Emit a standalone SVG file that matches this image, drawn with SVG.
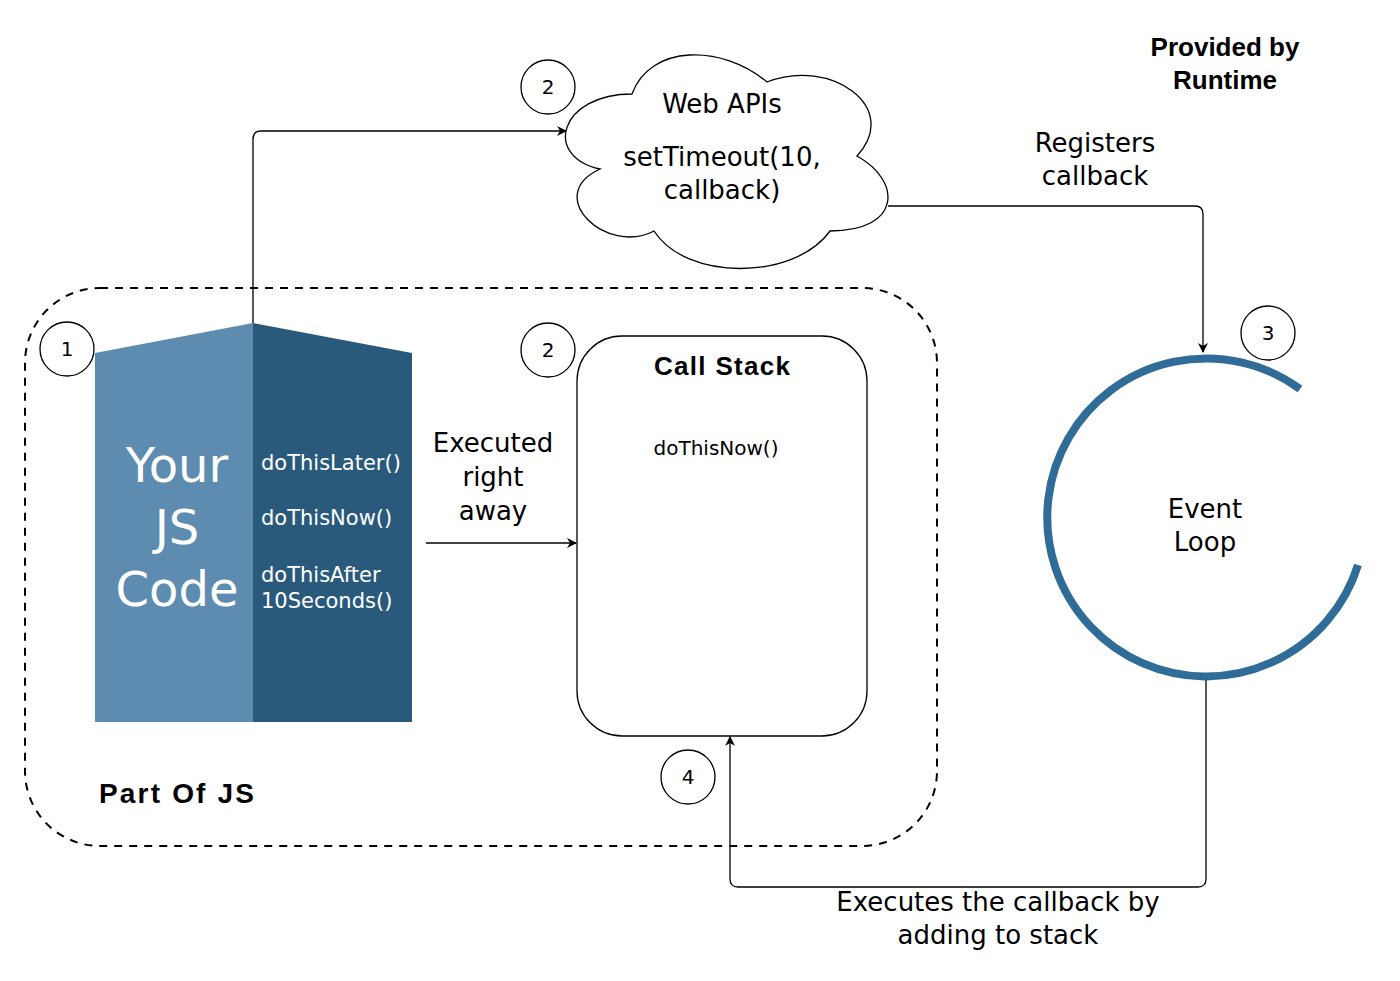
<svg xmlns="http://www.w3.org/2000/svg" width="1400" height="981" viewBox="0 0 1400 981">
<style>
text{font-family:"DejaVu Sans","Liberation Sans",sans-serif;fill:#000}
.t26{font-size:26px;text-anchor:middle}
.b{font-weight:bold;font-family:"Liberation Sans","DejaVu Sans",sans-serif}
.num{font-size:20px;text-anchor:middle}
.circ{fill:#fff;stroke:#000;stroke-width:1.3}
.conn{fill:none;stroke:#000;stroke-width:1.3}
.code{font-size:21px}
.big{font-size:48px;text-anchor:middle}
.w{fill:#fff}
</style>
<defs>
<marker id="arr" viewBox="0 0 10 10" refX="9" refY="5" markerWidth="10" markerHeight="10" markerUnits="userSpaceOnUse" orient="auto">
<path d="M0,0 L10,5 L0,10 L3,5 Z" fill="#000"/>
</marker>
</defs>
<rect width="1400" height="981" fill="#fff"/>
<g id="part-of-js">
<rect x="25" y="288" width="912" height="558" rx="75" fill="none" stroke="#000" stroke-width="2" stroke-dasharray="8,7"/>
<text x="99" y="803" font-size="28" class="b" textLength="155" lengthAdjust="spacing">Part Of JS</text>
</g>
<g id="connectors">
<path class="conn" d="M253,323 V139 Q253,131 261,131 H566" marker-end="url(#arr)"/>
<path class="conn" d="M888,206 H1195 Q1203,206 1203,214 V352" marker-end="url(#arr)"/>
<path class="conn" d="M426,543 H576" marker-end="url(#arr)"/>
<path class="conn" d="M1206,673 V879 Q1206,887 1198,887 H738 Q730,887 730,879 V737" marker-end="url(#arr)"/>
</g>
<g id="js-code">
<polygon points="95,353 253,323 253,722 95,722" fill="#5d8cb0"/>
<polygon points="253,323 412,353 412,722 253,722" fill="#295a7b"/>
<text x="177" y="482" class="big w">Your</text>
<text x="177" y="544" class="big w">JS</text>
<text x="177" y="606" class="big w">Code</text>
<text x="261" y="470" class="code w">doThisLater()</text>
<text x="261" y="525" class="code w">doThisNow()</text>
<text x="261" y="582" class="code w">doThisAfter</text>
<text x="261" y="608" class="code w">10Seconds()</text>
</g>
<g id="step1"><circle class="circ" cx="67" cy="349" r="27"/><text x="67" y="356" class="num">1</text></g>
<g id="web-apis">
<path d="M632,94 C560,94 542,156 600,169 C542,196 607,256 654,231 C686,281 794,281 830,231 C902,231 902,181 857,156 C902,107 830,57 767,82 C722,44 650,44 632,94 Z" fill="#fff" stroke="#000" stroke-width="1.3"/>
<text x="722" y="113" class="t26">Web APIs</text>
<text x="722" y="166" class="t26">setTimeout(10,</text>
<text x="722" y="199" class="t26">callback)</text>
</g>
<g id="step2a"><circle class="circ" cx="548" cy="87" r="27"/><text x="548" y="94" class="num">2</text></g>
<g id="call-stack">
<rect x="577" y="336" width="290" height="400" rx="45" fill="#fff" stroke="#000" stroke-width="1.3"/>
<text x="722" y="375" class="t26 b" textLength="136" lengthAdjust="spacing">Call Stack</text>
<text x="716" y="455" font-size="20" text-anchor="middle">doThisNow()</text>
</g>
<g id="step2b"><circle class="circ" cx="548" cy="350" r="27"/><text x="548" y="357" class="num">2</text></g>
<g id="executed-label">
<text x="493" y="452" class="t26">Executed</text>
<text x="493" y="486" class="t26">right</text>
<text x="493" y="520" class="t26">away</text>
</g>
<g id="event-loop">
<path d="M1300,389 A159,159 0 1 0 1358,565" fill="none" stroke="#306c98" stroke-width="8"/>
<text x="1205" y="518" class="t26">Event</text>
<text x="1205" y="551" class="t26">Loop</text>
</g>
<g id="step3"><circle class="circ" cx="1268" cy="333" r="27"/><text x="1268" y="340" class="num">3</text></g>
<g id="step4"><circle class="circ" cx="688" cy="777" r="27"/><text x="688" y="784" class="num">4</text></g>
<g id="labels">
<text x="1225" y="56" font-size="27" class="t26 b">Provided by</text>
<text x="1225" y="89" font-size="27" class="t26 b">Runtime</text>
<text x="1095" y="152" class="t26">Registers</text>
<text x="1095" y="185" class="t26">callback</text>
<text x="998" y="911" class="t26">Executes the callback by</text>
<text x="998" y="944" class="t26">adding to stack</text>
</g>
</svg>
